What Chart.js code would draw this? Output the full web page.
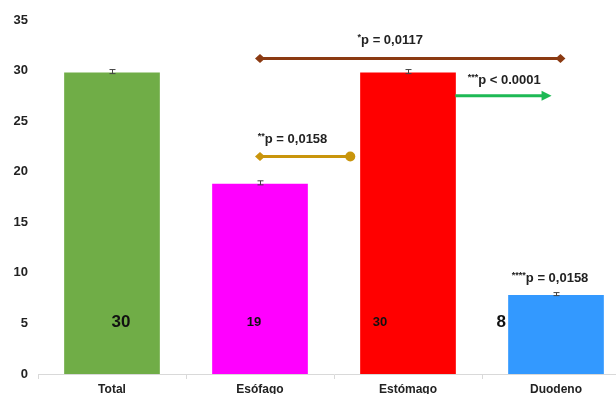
<!DOCTYPE html>
<html>
<head>
<meta charset="utf-8">
<script src="https://cdn.jsdelivr.net/npm/chart.js@4"></script>
<style>
  html, body { margin: 0; padding: 0; background: #fff; overflow: hidden; }
  #wrap { width: 640px; height: 394px; }
</style>
</head>
<body>
<div id="wrap"><canvas id="chart"></canvas></div>
<script>
const categories = ['Total', 'Esófago', 'Estómago', 'Duodeno']
const values = [29.9, 18.9, 29.9, 7.9]
const errors = [0.2, 0.2, 0.2, 0.15]
const valueLabels = ['30', '19', '30', '8']
const barColors = ['#70AD47', '#FF00FF', '#FF0000', '#3399FF']
const yTicks = [0, 5, 10, 15, 20, 25, 30, 35]

// comparison brackets, in category index / value units
const comparisons = [
  { from: 1, to: 3.03, y: 31.2, color: '#8B3A12', start: 'diamond', end: 'diamond' },
  { from: 1, to: 1.61, y: 21.5, color: '#C9950C', start: 'diamond', end: 'circle' },
  { from: 2.32, to: 2.97, y: 27.5, color: '#1DB954', start: 'none', end: 'arrow' }
]
const pLabels = [
  { stars: '*', text: 'p = 0,0117', x: 1.88, y: 33.1 },
  { stars: '**', text: 'p = 0,0158', x: 1.22, y: 23.3 },
  { stars: '***', text: 'p < 0.0001', x: 2.65, y: 29.2 },
  { stars: '****', text: 'p = 0,0158', x: 2.96, y: 9.6 }
]

const FONT = '"Liberation Sans", Arial, sans-serif'

const extras = {
  id: 'extras',
  afterDatasetsDraw(chart) {
    const ctx = chart.ctx
    const x = chart.scales.x
    const y = chart.scales.y
    const step = x.getPixelForValue(1) - x.getPixelForValue(0)
    const px = v => x.getPixelForValue(0) + v * step
    ctx.save()

    // error bars
    ctx.strokeStyle = '#444'
    ctx.lineWidth = 1
    values.forEach((v, i) => {
      const cx = Math.round(x.getPixelForValue(i)) + 0.5
      const t = y.getPixelForValue(v + errors[i])
      const b = y.getPixelForValue(v - errors[i])
      ctx.beginPath()
      ctx.moveTo(cx, t); ctx.lineTo(cx, b)
      ctx.moveTo(cx - 3, t); ctx.lineTo(cx + 3, t)
      ctx.moveTo(cx - 3, b); ctx.lineTo(cx + 3, b)
      ctx.stroke()
    })

    // value labels inside bars
    const lab = chart.options.plugins.extras
    ctx.fillStyle = '#111'
    ctx.textAlign = 'center'
    ctx.textBaseline = 'middle'
    valueLabels.forEach((t, i) => {
      ctx.font = 'bold ' + lab.sizes[i] + 'px ' + FONT
      ctx.fillText(t, px(i + lab.offsets[i]), y.getPixelForValue(lab.labelY))
    })

    // comparison lines
    const marker = (kind, mx, my, color, dir) => {
      ctx.fillStyle = color
      ctx.beginPath()
      if (kind === 'diamond') {
        ctx.moveTo(mx - 5, my); ctx.lineTo(mx, my - 4.5); ctx.lineTo(mx + 5, my); ctx.lineTo(mx, my + 4.5)
      } else if (kind === 'circle') {
        ctx.arc(mx, my, 5, 0, Math.PI * 2)
      } else if (kind === 'arrow') {
        ctx.moveTo(mx, my); ctx.lineTo(mx - 10 * dir, my - 5); ctx.lineTo(mx - 10 * dir, my + 5)
      } else return
      ctx.closePath()
      ctx.fill()
    }
    comparisons.forEach(c => {
      const x1 = px(c.from), x2 = px(c.to), yy = y.getPixelForValue(c.y)
      ctx.strokeStyle = c.color
      ctx.lineWidth = 3
      ctx.beginPath()
      ctx.moveTo(x1, yy)
      ctx.lineTo(c.end === 'arrow' ? x2 - 8 : x2, yy)
      ctx.stroke()
      marker(c.start, x1, yy, c.color, -1)
      marker(c.end, x2, yy, c.color, 1)
    })

    // p-value texts with superscript stars
    ctx.fillStyle = '#222'
    ctx.textBaseline = 'alphabetic'
    ctx.textAlign = 'left'
    pLabels.forEach(p => {
      ctx.font = 'bold 9px ' + FONT
      const sw = ctx.measureText(p.stars).width
      ctx.font = 'bold 13px ' + FONT
      const tw = ctx.measureText(p.text).width
      const left = px(p.x) - (sw + tw) / 2
      const base = y.getPixelForValue(p.y) + 5
      ctx.font = 'bold 9px ' + FONT
      ctx.fillText(p.stars, left, base - 4)
      ctx.font = 'bold 13px ' + FONT
      ctx.fillText(p.text, left + sw, base)
    })
    ctx.restore()
  }
}

new Chart(document.getElementById('chart'), {
  type: 'bar',
  data: {
    labels: categories,
    datasets: [{
      data: values,
      backgroundColor: barColors,
      borderColor: 'rgba(255,255,255,0.5)',
      borderWidth: 1,
      categoryPercentage: 1,
      barPercentage: 0.66
    }]
  },
  options: {
    responsive: true,
    maintainAspectRatio: false,
    animation: false,
    layout: { padding: { top: 20, right: 10, left: 0, bottom: 0 } },
    plugins: {
      legend: { display: false },
      tooltip: { enabled: false },
      extras: {
        labelY: 5.1,
        offsets: [0.06, -0.04, -0.19, -0.37],
        sizes: [17, 13, 13, 17]
      }
    },
    scales: {
      x: {
        afterFit: s => { s.height = 20 },
        grid: { display: true, drawOnChartArea: false, drawTicks: true, tickLength: 5, color: '#d9d9d9', offset: true },
        border: { display: true, color: '#d9d9d9' },
        ticks: { color: '#222', font: { family: FONT, size: 12, weight: 'bold' }, padding: 3 }
      },
      y: {
        min: 0,
        max: 35,
        afterBuildTicks: s => { s.ticks = yTicks.map(v => ({ value: v })) },
        afterFit: s => { s.width = 38 },
        grid: { display: false, drawTicks: false },
        border: { display: false },
        ticks: { color: '#222', font: { family: FONT, size: 13, weight: 'bold' }, padding: 10 }
      }
    }
  },
  plugins: [extras]
})
</script>
</body>
</html>
